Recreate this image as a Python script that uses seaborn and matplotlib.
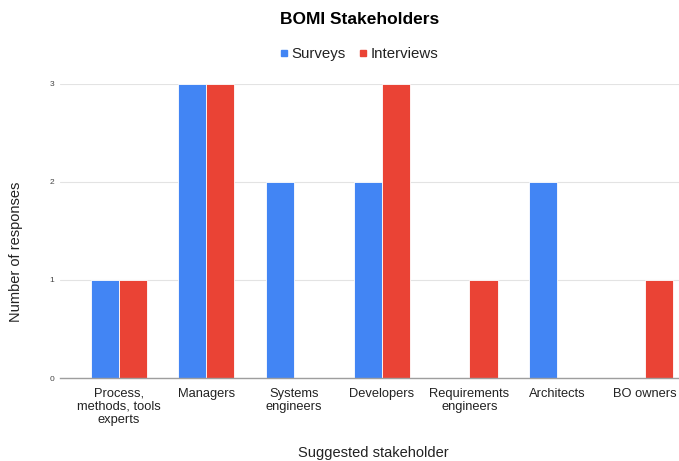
import matplotlib
matplotlib.use("Agg")
import matplotlib.pyplot as plt
from matplotlib.lines import Line2D
import seaborn as sns
import pandas as pd

categories = ["Process,\nmethods, tools\nexperts", "Managers", "Systems\nengineers",
              "Developers", "Requirements\nengineers", "Architects", "BO owners"]
surveys = [1, 3, 2, 2, 0, 2, 0]
interviews = [1, 3, 0, 3, 1, 0, 1]
series_names = ["Surveys", "Interviews"]
colors = ["#4285F4", "#EA4335"]
y_ticks = [0, 1, 2, 3]

df = pd.DataFrame({
    "Stakeholder": categories * 2,
    "Responses": surveys + interviews,
    "Source": [series_names[0]] * len(categories) + [series_names[1]] * len(categories),
})

sns.set_style("white")
plt.rcParams["font.family"] = ["Liberation Sans", "DejaVu Sans"]

W, H = 679, 461
fig = plt.figure(figsize=(W / 100, H / 100), dpi=100)
ax = fig.add_axes([60 / W, (H - 378) / H, (W - 60) / W, (378 - 84) / H])

sns.barplot(data=df, x="Stakeholder", y="Responses", hue="Source",
            palette=colors, width=0.64, edgecolor="white", linewidth=0.6,
            saturation=1, legend=False, ax=ax)

ax.set_xlim(-0.67, 6.39)
ax.set_ylim(0, 3)
ax.set_yticks(y_ticks)
ax.set_yticklabels([str(t) for t in y_ticks], fontsize=6, color="#444444")
ax.grid(axis="y", color="#e3e3e3", linewidth=0.8)
ax.set_axisbelow(True)
for s in ["top", "right", "left"]:
    ax.spines[s].set_visible(False)
ax.spines["bottom"].set_color("#9e9e9e")
ax.spines["bottom"].set_linewidth(1.0)
ax.spines["bottom"].set_zorder(3)
ax.tick_params(axis="both", length=0)
ax.tick_params(axis="y", pad=4)
ax.tick_params(axis="x", pad=7)
for lab in ax.get_xticklabels():
    lab.set_fontsize(9.3)
    lab.set_color("#222222")
    lab.set_linespacing(1.12)

ax.set_xlabel("")
ax.set_ylabel("")
fig.text(373 / W, 1 - 453 / H, "Suggested stakeholder", ha="center", va="center",
         fontsize=10.5, color="#222222")
fig.text(16 / W, 1 - 252 / H, "Number of responses", rotation=90, ha="center",
         va="center", fontsize=10.5, color="#222222")

fig.text(360 / W, 1 - 20 / H, "BOMI Stakeholders", ha="center", va="center",
         fontsize=12.5, fontweight="bold", color="#000000")

handles = [Line2D([0], [0], marker="s", linestyle="none", markersize=4.8,
                  markerfacecolor=c, markeredgecolor=c) for c in colors]
fig.legend(handles, series_names, loc="center", bbox_to_anchor=(358 / W, 1 - 54 / H),
           ncol=2, frameon=False, fontsize=10.8, handletextpad=0.15,
           handlelength=0.8, columnspacing=0.7, labelcolor="#222222")

fig.savefig("out.png", dpi=100)
